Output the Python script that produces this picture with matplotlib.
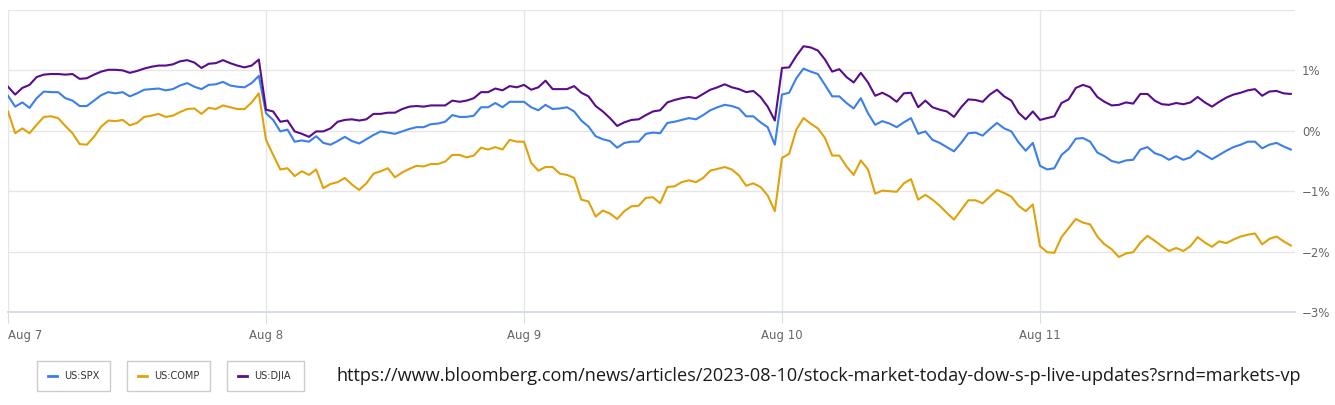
import numpy as np
import matplotlib
matplotlib.use("Agg")
import matplotlib.pyplot as plt
from matplotlib.patches import Rectangle
from matplotlib.lines import Line2D

# % change, 36 readings per trading day, Aug 7 .. Aug 11
days = ["Aug 7", "Aug 8", "Aug 9", "Aug 10", "Aug 11"]
per_day = 36

djia = [
    0.73, 0.60, 0.71, 0.76, 0.89, 0.93, 0.94, 0.94, 0.93, 0.94, 0.86, 0.87, 0.93, 0.98, 1.01, 1.01, 1.00, 0.96,
    0.99, 1.03, 1.06, 1.08, 1.08, 1.10, 1.15, 1.17, 1.13, 1.04, 1.11, 1.12, 1.17, 1.12, 1.08, 1.05, 1.08, 1.18,
    0.35, 0.32, 0.15, 0.17, -0.01, -0.05, -0.10, -0.01, -0.01, 0.04, 0.15, 0.18, 0.19, 0.17, 0.19, 0.28, 0.28, 0.30,
    0.30, 0.36, 0.40, 0.41, 0.40, 0.42, 0.42, 0.42, 0.50, 0.48, 0.50, 0.54, 0.64, 0.64, 0.70, 0.67, 0.74, 0.72,
    0.76, 0.68, 0.72, 0.83, 0.69, 0.69, 0.69, 0.74, 0.63, 0.57, 0.41, 0.32, 0.21, 0.08, 0.14, 0.18, 0.19, 0.26,
    0.32, 0.34, 0.47, 0.51, 0.54, 0.56, 0.54, 0.61, 0.68, 0.72, 0.77, 0.72, 0.69, 0.64, 0.66, 0.56, 0.40, 0.17,
    1.04, 1.05, 1.24, 1.40, 1.38, 1.33, 1.18, 0.98, 1.02, 0.89, 0.80, 0.96, 0.80, 0.58, 0.63, 0.57, 0.48, 0.62,
    0.63, 0.39, 0.50, 0.39, 0.35, 0.32, 0.23, 0.39, 0.52, 0.51, 0.48, 0.60, 0.68, 0.57, 0.50, 0.30, 0.19, 0.32,
    0.18, 0.21, 0.24, 0.46, 0.52, 0.71, 0.76, 0.72, 0.56, 0.48, 0.42, 0.43, 0.47, 0.45, 0.61, 0.61, 0.50, 0.44,
    0.43, 0.46, 0.44, 0.47, 0.56, 0.47, 0.40, 0.48, 0.55, 0.60, 0.63, 0.67, 0.69, 0.58, 0.65, 0.66, 0.62, 0.61,
]

spx = [
    0.58, 0.40, 0.47, 0.38, 0.54, 0.65, 0.64, 0.64, 0.54, 0.50, 0.41, 0.41, 0.50, 0.59, 0.64, 0.62, 0.64, 0.57,
    0.62, 0.68, 0.69, 0.70, 0.67, 0.69, 0.75, 0.79, 0.73, 0.69, 0.76, 0.77, 0.81, 0.75, 0.73, 0.72, 0.79, 0.91,
    0.29, 0.18, -0.01, 0.02, -0.18, -0.16, -0.18, -0.09, -0.20, -0.23, -0.17, -0.10, -0.17, -0.21, -0.14, -0.07, -0.01, -0.03,
    -0.05, -0.01, 0.03, 0.06, 0.06, 0.11, 0.12, 0.15, 0.26, 0.23, 0.23, 0.25, 0.39, 0.39, 0.46, 0.39, 0.48, 0.48,
    0.48, 0.39, 0.34, 0.43, 0.36, 0.37, 0.39, 0.32, 0.17, 0.07, -0.09, -0.14, -0.17, -0.28, -0.20, -0.18, -0.18, -0.05,
    -0.03, -0.04, 0.13, 0.15, 0.18, 0.21, 0.19, 0.26, 0.34, 0.39, 0.43, 0.41, 0.37, 0.24, 0.24, 0.14, 0.06, -0.23,
    0.60, 0.63, 0.87, 1.03, 0.98, 0.94, 0.76, 0.57, 0.57, 0.46, 0.37, 0.54, 0.29, 0.10, 0.16, 0.12, 0.06, 0.14,
    0.21, -0.05, -0.01, -0.15, -0.20, -0.27, -0.34, -0.20, -0.04, -0.03, -0.08, 0.03, 0.13, 0.04, -0.01, -0.19, -0.33, -0.20,
    -0.58, -0.64, -0.62, -0.40, -0.30, -0.13, -0.12, -0.18, -0.36, -0.42, -0.50, -0.53, -0.49, -0.48, -0.31, -0.27, -0.37, -0.41,
    -0.48, -0.42, -0.48, -0.44, -0.33, -0.40, -0.47, -0.40, -0.33, -0.27, -0.23, -0.18, -0.18, -0.29, -0.23, -0.20, -0.26, -0.31,
]

comp = [
    0.32, -0.04, 0.04, -0.04, 0.10, 0.23, 0.24, 0.21, 0.08, -0.04, -0.22, -0.23, -0.10, 0.07, 0.17, 0.16, 0.18, 0.09,
    0.13, 0.23, 0.25, 0.28, 0.23, 0.25, 0.31, 0.36, 0.37, 0.28, 0.38, 0.36, 0.42, 0.39, 0.36, 0.36, 0.47, 0.62,
    -0.15, -0.40, -0.64, -0.62, -0.75, -0.67, -0.73, -0.64, -0.95, -0.88, -0.85, -0.78, -0.89, -0.98, -0.87, -0.71, -0.67, -0.62,
    -0.77, -0.69, -0.63, -0.58, -0.59, -0.55, -0.55, -0.51, -0.40, -0.40, -0.44, -0.41, -0.28, -0.31, -0.27, -0.31, -0.15, -0.18,
    -0.18, -0.53, -0.66, -0.60, -0.60, -0.71, -0.73, -0.78, -1.14, -1.17, -1.42, -1.32, -1.37, -1.46, -1.33, -1.25, -1.24, -1.11,
    -1.10, -1.20, -0.93, -0.92, -0.85, -0.82, -0.85, -0.78, -0.66, -0.63, -0.60, -0.64, -0.74, -0.91, -0.87, -0.93, -1.07, -1.33,
    -0.45, -0.38, 0.02, 0.21, 0.12, 0.04, -0.12, -0.41, -0.41, -0.59, -0.73, -0.49, -0.64, -1.04, -0.99, -1.00, -1.01, -0.87,
    -0.80, -1.14, -1.06, -1.14, -1.24, -1.36, -1.47, -1.31, -1.15, -1.15, -1.20, -1.09, -0.98, -1.03, -1.09, -1.24, -1.33, -1.22,
    -1.91, -2.01, -2.02, -1.76, -1.61, -1.46, -1.52, -1.55, -1.75, -1.88, -1.96, -2.09, -2.03, -2.01, -1.85, -1.74, -1.82, -1.91,
    -1.99, -1.94, -1.99, -1.91, -1.76, -1.85, -1.92, -1.83, -1.86, -1.80, -1.75, -1.72, -1.70, -1.88, -1.79, -1.75, -1.83, -1.90,
]

series = [("US:SPX", spx, "#3b7fea"), ("US:COMP", comp, "#e0a20a"), ("US:DJIA", djia, "#590c8c")]
url = "https://www.bloomberg.com/news/articles/2023-08-10/stock-market-today-dow-s-p-live-updates?srnd=markets-vp"

W, H = 1335, 405
fig = plt.figure(figsize=(W / 100, H / 100), dpi=100)
fig.patch.set_facecolor("white")
ax = fig.add_axes([8 / W, 1 - 312 / H, (1295 - 8) / W, (312 - 10) / H])

x = np.arange(len(spx)) / per_day

for x0 in range(len(days)):
    ax.axvline(x0, color="#e6e6e6", lw=1, zorder=0)
for y0 in [-2, -1, 0, 1, 2]:
    ax.axhline(y0, color="#e6e6e6", lw=1, zorder=0)

for name, vals, col in series:
    ax.plot(x, vals, color=col, lw=1.5, solid_joinstyle="round", zorder=3)

ax.set_xlim(0, (1295 - 8) / 258)
ax.set_ylim(-3, 2)
for s in ["top", "right", "left"]:
    ax.spines[s].set_visible(False)
ax.spines["bottom"].set_color("#d8dee6")
ax.spines["bottom"].set_linewidth(1.5)

ax.set_xticks(range(len(days)))
ax.set_xticklabels(days)
ax.tick_params(axis="x", length=8, color="#d8dee6", labelsize=8.5, labelcolor="#666666", pad=4)
ax.get_xticklabels()[0].set_horizontalalignment("left")

ax.yaxis.tick_right()
ax.set_yticks([-3, -2, -1, 0, 1])
ax.set_yticklabels(["\u22123%", "\u22122%", "\u22121%", "0%", "1%"])
ax.tick_params(axis="y", length=0, labelsize=8.5, labelcolor="#666666", pad=5)

# legend boxes
boxes = [(37, 110), (127, 210), (227, 304)]
for (bx0, bx1), (name, vals, col) in zip(boxes, series):
    fig.patches.append(Rectangle((bx0 / W, 1 - 391 / H), (bx1 - bx0) / W, 30 / H,
                                 transform=fig.transFigure, fill=False, ec="#cccccc", lw=1))
    fig.lines.append(Line2D([(bx0 + 11) / W, (bx0 + 20) / W], [1 - 376 / H] * 2,
                            transform=fig.transFigure, color=col, lw=2))
    fig.text((bx0 + 27) / W, 1 - 376 / H, name, fontsize=7, color="#333333", va="center", ha="left")

fig.text(337 / W, 1 - 376 / H, url, fontsize=13.1, family="Open Sans", color="#1a1a1a", va="center", ha="left")

fig.savefig("out.png", dpi=100)
